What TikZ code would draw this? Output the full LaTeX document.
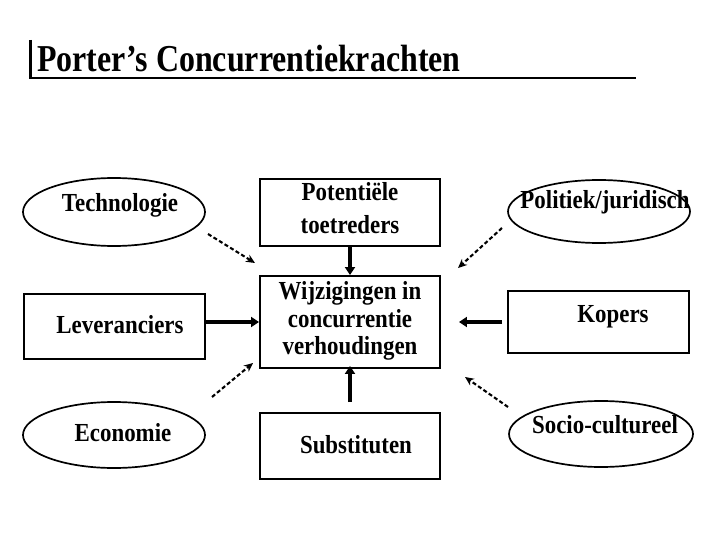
\documentclass[tikz,border=0pt]{standalone}
\usepackage{fontspec}
\setmainfont{Liberation Serif}
\usetikzlibrary{shapes.geometric,arrows.meta}
\tikzset{
    tekst/.style={
        font=\bfseries\fontsize{26}{27.5}\selectfont, xscale=0.88, align=center, inner sep=0pt
    },
    kader/.style={draw, line width=1.9pt, minimum width=180pt, inner sep=0pt},
    ovaal/.style={draw, ellipse, line width=1.7pt, minimum width=182pt, inner sep=0pt},
    kracht/.style={-{Triangle[length=8pt,width=10pt]}, line width=4pt},
    invloed/.style={-{Stealth[length=9pt,width=8pt]}, line width=2.1pt, dash pattern=on 4pt off 2.5pt}
}

\begin{document}
\begin{tikzpicture}[x=1pt, y=-1pt, line join=miter]

\useasboundingbox (0,0) rectangle (720,540);

% titel
\node[anchor=base west, inner sep=0pt, xscale=0.84,
      font=\bfseries\fontsize{38}{40}\selectfont] (titel) at (37,72) {Porter’s Concurrentiekrachten};
\draw[line width=3pt] (30,40) -- (30,79);
\draw[line width=1.3pt] (30,78) -- (636,78);

% krachten (kaders)
\node[kader, minimum height=67pt] (pot) at (350,212.5) {};
\node[kader, minimum height=65pt, minimum width=181pt] (lev) at (114.5,326.5) {};
\node[kader, minimum height=92pt] (wijz) at (350,322) {};
\node[kader, minimum height=62pt, minimum width=181pt] (kop) at (598.5,322) {};
\node[kader, minimum height=66pt] (sub) at (350,446) {};

% omgevingsfactoren (ovalen)
\node[ovaal, minimum height=68pt] (tech) at (114,212) {};
\node[ovaal, minimum height=63pt] (pol) at (599,211.5) {};
\node[ovaal, minimum height=66pt] (eco) at (114,435) {};
\node[ovaal, minimum height=66pt, minimum width=184pt] (soc) at (601,434) {};

% teksten
\node[tekst, font=\bfseries\fontsize{26}{33}\selectfont] (potT) at (350,208.5) {Potentiële\\toetreders};
\node[tekst] (wijzT) at (350,321) {Wijzigingen in\\concurrentie\\verhoudingen};
\node[tekst] (levT) at (120,325) {Leveranciers};
\node[tekst] (kopT) at (613,317) {Kopers};
\node[tekst] (subT) at (356,445) {Substituten};
\node[tekst] (techT) at (120,205) {Technologie};
\node[tekst] (polT) at (605,202) {Politiek/juridisch};
\node[tekst] (ecoT) at (123,433) {Economie};
\node[tekst] (socT) at (605,425) {Socio-cultureel};

% directe krachten
\draw[kracht] (pot.south) -- (wijz.north);
\draw[kracht] (lev.east |- wijz.west) -- (wijz.west);
\draw[kracht, shorten <=5pt, shorten >=18pt] (kop.west |- wijz.east) -- (wijz.east);
\draw[kracht, shorten <=10pt, shorten >=-3pt] (sub.north) -- (wijz.south);

% indirecte invloeden
\coordinate (techA) at (208,234);
\coordinate (techB) at (255,263);
\coordinate (polA) at (502,228);
\coordinate (polB) at (458,268);
\coordinate (ecoA) at (212,397);
\coordinate (ecoB) at (253,363);
\coordinate (socA) at (508,407);
\coordinate (socB) at (465,377);
\draw[invloed] (techA) -- (techB);
\draw[invloed] (polA) -- (polB);
\draw[invloed] (ecoA) -- (ecoB);
\draw[invloed] (socA) -- (socB);

\end{tikzpicture}
\end{document}
